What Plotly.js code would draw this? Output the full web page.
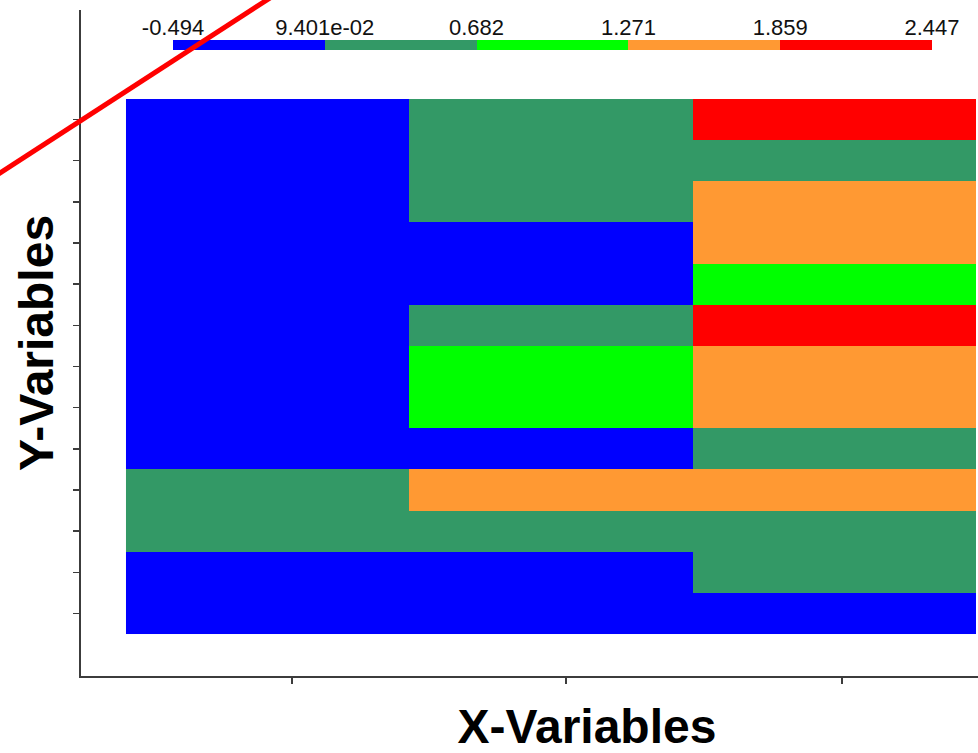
<!DOCTYPE html>
<html>
<head>
<meta charset="utf-8">
<script src="https://cdn.plot.ly/plotly-3.0.1.min.js"></script>
<style>
  html, body { margin: 0; padding: 0; overflow: hidden; background: #fff; }
  #chart { width: 1100px; height: 753px; }
</style>
</head>
<body>
<div id="chart"></div>
<script>
// ---- data ----
// colour-level boundaries shown on the legend bar
const levelEdges = [-0.494, 0.09401, 0.682, 1.271, 1.859, 2.447];
const levelLabels = ["-0.494", "9.401e-02", "0.682", "1.271", "1.859", "2.447"];
const levelColors = ["#0000FF", "#339966", "#00FF00", "#FF9933", "#FF0000"];
// representative value of each level (mid of each bin)
const levelValues = [-0.2, 0.388, 0.976, 1.565, 2.153];

const xCategories = [0, 1, 2];
// rows listed top to bottom; values per X column
const rowsTopToBottom = [
  [-0.2, 0.388, 2.153],
  [-0.2, 0.388, 0.388],
  [-0.2, 0.388, 1.565],
  [-0.2, -0.2, 1.565],
  [-0.2, -0.2, 0.976],
  [-0.2, 0.388, 2.153],
  [-0.2, 0.976, 1.565],
  [-0.2, 0.976, 1.565],
  [-0.2, -0.2, 0.388],
  [0.388, 1.565, 1.565],
  [0.388, 0.388, 0.388],
  [-0.2, -0.2, 0.388],
  [-0.2, -0.2, -0.2]
];
const xTickVals = [0.086, 1.052, 2.026];

// ---- build ----
const nRows = rowsTopToBottom.length;
const yCategories = rowsTopToBottom.map((_, i) => nRows - 1 - i);
const zmin = levelEdges[0], zmax = levelEdges[levelEdges.length - 1];
const colorscale = [];
levelColors.forEach((c, i) => {
  colorscale.push([i / levelColors.length, c]);
  colorscale.push([(i + 1) / levelColors.length, c]);
});

const traces = [
  {
    type: 'heatmap',
    x: xCategories,
    y: yCategories,
    z: rowsTopToBottom,
    zmin: zmin, zmax: zmax,
    colorscale: colorscale,
    showscale: false,
    xaxis: 'x', yaxis: 'y',
    hoverinfo: 'z'
  },
  {
    type: 'heatmap',
    x: levelEdges,
    y: [0],
    z: [levelValues],
    zmin: zmin, zmax: zmax,
    colorscale: colorscale,
    showscale: false,
    xaxis: 'x2', yaxis: 'y2',
    hoverinfo: 'skip'
  }
];

const W = 1100, H = 753;
const mL = 81, mR = 7, mT = 10, mB = 77;
const pw = W - mL - mR, ph = H - mT - mB;
function px2paperX(px) { return (px - mL) / pw; }
function px2paperY(py) { return (H - mB - py) / ph; }

const axisFont = { family: 'Liberation Sans, Arial, sans-serif', size: 48, color: '#000', weight: 'bold' };

const layout = {
  width: W, height: H,
  margin: { l: mL, r: mR, t: mT, b: mB, pad: 0 },
  paper_bgcolor: '#fff', plot_bgcolor: '#fff',
  showlegend: false,
  xaxis: {
    range: [-0.6587, 2.911],
    showgrid: false, zeroline: false,
    showline: true, linecolor: '#3c3c3c', linewidth: 2,
    ticks: 'outside', ticklen: 6, tickwidth: 1.5, tickcolor: '#3c3c3c',
    tickvals: xTickVals, showticklabels: false,
    title: { text: 'X-Variables', font: axisFont, standoff: 32 },
    automargin: false
  },
  yaxis: {
    range: [-1.5206, 14.663],
    showgrid: false, zeroline: false,
    showline: true, linecolor: '#3c3c3c', linewidth: 2,
    ticks: 'outside', ticklen: 6, tickwidth: 1.5, tickcolor: '#3c3c3c',
    tickvals: yCategories, showticklabels: false,
    title: { text: 'Y-Variables', font: axisFont, standoff: 4 },
    automargin: false
  },
  xaxis2: {
    domain: [px2paperX(173), px2paperX(932)],
    anchor: 'y2',
    range: [zmin, zmax],
    side: 'top',
    showgrid: false, zeroline: false, showline: false,
    ticks: '', tickvals: levelEdges, ticktext: levelLabels,
    tickfont: { family: 'Liberation Sans, Arial, sans-serif', size: 22, color: '#111' },
    automargin: false
  },
  yaxis2: {
    domain: [px2paperY(50), px2paperY(40)],
    anchor: 'x2',
    range: [-0.5, 0.5],
    showgrid: false, zeroline: false, showline: false,
    showticklabels: false, ticks: ''
  },
  shapes: [
    {
      type: 'line', xref: 'paper', yref: 'paper', layer: 'above',
      x0: px2paperX(-20), y0: px2paperY(186),
      x1: px2paperX(290), y1: px2paperY(-15),
      line: { color: '#FF0000', width: 5 }
    }
  ]
};

Plotly.newPlot('chart', traces, layout, { staticPlot: true, displayModeBar: false });
</script>
</body>
</html>
